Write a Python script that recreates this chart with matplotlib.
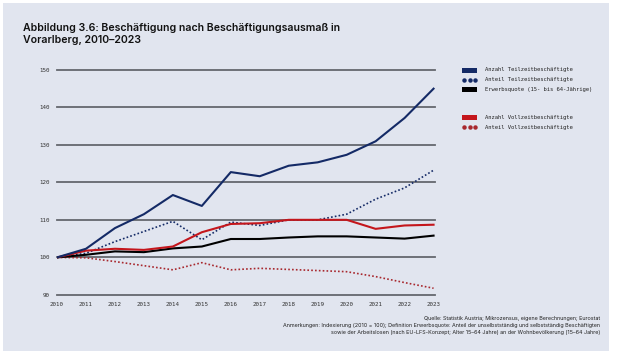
import matplotlib
matplotlib.use("Agg")
import matplotlib.pyplot as plt
from matplotlib.patches import Rectangle
from matplotlib.lines import Line2D

# Data (index 2010 = 100)
years = list(range(2010, 2024))
anzahl_tz = [100, 102.3, 107.8, 111.5, 116.6, 113.7, 122.7, 121.6, 124.4, 125.3, 127.3, 130.9, 137.1, 144.9]
anteil_tz = [100, 101.1, 104.2, 106.9, 109.6, 104.7, 109.4, 108.5, 110.0, 110.0, 111.5, 115.5, 118.5, 123.2]
erwerbsquote = [100, 100.7, 101.6, 101.4, 102.4, 102.9, 104.9, 104.9, 105.3, 105.6, 105.6, 105.3, 105.0, 105.8]
anzahl_vz = [100, 101.8, 102.3, 102.0, 102.9, 106.7, 108.9, 109.1, 110.0, 110.0, 110.0, 107.6, 108.5, 108.7]
anteil_vz = [100, 99.9, 98.9, 97.8, 96.7, 98.6, 96.7, 97.1, 96.8, 96.5, 96.2, 94.9, 93.3, 91.8]
yticks = [90, 100, 110, 120, 130, 140, 150]

legend_labels = ["Anzahl Teilzeitbeschäftigte", "Anteil Teilzeitbeschäftigte",
                 "Erwerbsquote (15- bis 64-Jährige)",
                 "Anzahl Vollzeitbeschäftigte", "Anteil Vollzeitbeschäftigte"]

NAVY = "#142a66"
RED = "#c4161c"
DRED = "#a8282e"
BG = "#e1e5ef"
GRID = "#64676e"
MONO = "DejaVu Sans Mono"

W, H = 619, 360
fig = plt.figure(figsize=(W / 100, H / 100), dpi=100)
fig.patch.set_facecolor("white")
fig.add_artist(Rectangle((3 / W, 1 - 351 / H), 606 / W, 348 / H, transform=fig.transFigure,
                         facecolor=BG, edgecolor="none", zorder=0))

x0, x1 = 57, 435
ytop, ybot = 69.5, 295
ax = fig.add_axes([x0 / W, 1 - ybot / H, (x1 - x0) / W, (ybot - ytop) / H])
ax.set_facecolor("none")
ax.set_xlim(2010, 2023.05)
ax.set_ylim(90, 150)
for s in ax.spines.values():
    s.set_visible(False)
for v in yticks:
    ax.axhline(v, color=GRID, lw=1.3, zorder=1, clip_on=False)

ax.plot(years, anteil_vz, color=DRED, lw=1.2, ls=(0, (1, 1.3)), zorder=3)
ax.plot(years, anteil_tz, color=NAVY, lw=1.2, ls=(0, (1, 1.3)), zorder=3)
ax.plot(years, erwerbsquote, color="black", lw=1.5, zorder=4)
ax.plot(years, anzahl_vz, color=RED, lw=1.5, zorder=5)
ax.plot(years, anzahl_tz, color=NAVY, lw=1.5, zorder=5)

ax.set_xticks(years)
ax.set_yticks(yticks)
ax.tick_params(length=0, labelsize=4.2, labelcolor="#333333", pad=5)
for lab in ax.get_xticklabels() + ax.get_yticklabels():
    lab.set_family(MONO)

# Title
fig.text(23 / W, 1 - 43 / H, "Abbildung 3.6: Beschäftigung nach Beschäftigungsausmaß in\nVorarlberg, 2010–2023",
         family="Inter", fontsize=7.6, fontweight="semibold", color="#111111",
         ha="left", va="baseline", linespacing=1.3)

# Legend
colors = [NAVY, NAVY, "black", RED, DRED]
dotted = [False, True, False, False, True]
rows = [70, 80, 89, 118, 127]
for lab, c, d, y in zip(legend_labels, colors, dotted, rows):
    yf = 1 - y / H
    if d:
        fig.add_artist(Line2D([464 / W, 469.5 / W, 475 / W], [yf] * 3, transform=fig.transFigure,
                              ls="none", marker="o", ms=2.2, color=c))
    else:
        fig.add_artist(Rectangle((462 / W, yf - 2.5 / H), 15 / W, 5 / H, transform=fig.transFigure,
                                 facecolor=c, edgecolor="none"))
    fig.text(485 / W, yf, lab, family=MONO, fontsize=4.0, color="#222222", ha="left", va="center")

# Source / notes
notes = ("Quelle: Statistik Austria; Mikrozensus, eigene Berechnungen; Eurostat\n"
         "Anmerkungen: Indexierung (2010 = 100); Definition Erwerbsquote: Anteil der unselbstständig und selbstständig Beschäftigten\n"
         "sowie der Arbeitslosen (nach EU-LFS-Konzept; Alter 15–64 Jahre) an der Wohnbevölkerung (15–64 Jahre)")
fig.text(600 / W, 1 - 316 / H, notes, family="Inter", fontsize=3.9, color="#222222",
         ha="right", va="top", multialignment="right", linespacing=1.45)

fig.savefig("out.png", dpi=100)
